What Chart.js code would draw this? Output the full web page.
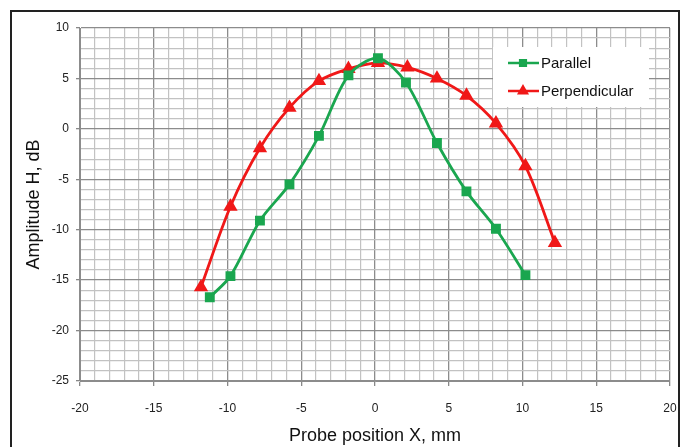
<!DOCTYPE html>
<html lang="en">
<head>
  <meta charset="UTF-8">
  <title>Amplitude vs probe position</title>
  <style>
    html, body { margin: 0; padding: 0; background: #fff; }
    #wrap { width: 683px; height: 447px; }
  </style>
</head>
<body>
  <div id="wrap"><canvas id="myChart" width="683" height="447"></canvas></div>
  <script src="https://cdn.jsdelivr.net/npm/chart.js"></script>
  <script>
    // values
    const parallelX = [-11.2, -9.8, -7.8, -5.8, -3.8, -1.8, 0.2, 2.1, 4.2, 6.2, 8.2, 10.2]
    const parallelY = [-16.7, -14.6, -9.1, -5.5, -0.7, 5.3, 7.0, 4.6, -1.4, -6.2, -9.9, -14.5]
    const perpX = [-11.8, -9.8, -7.8, -5.8, -3.8, -1.8, 0.2, 2.2, 4.2, 6.2, 8.2, 10.2, 12.2]
    const perpY = [-15.7, -7.7, -1.9, 2.1, 4.75, 5.95, 6.55, 6.1, 5.0, 3.3, 0.55, -3.7, -11.3]
    const seriesNames = ['Parallel', 'Perpendicular']
    const xRange = [-20, 20]
    const yRange = [-25, 10]
    const majorStep = 5

    const toPoints = (xs, ys) => xs.map((x, i) => ({ x: x, y: ys[i] }))
    const isMajor = ctx => ctx.tick && ctx.tick.value % majorStep === 0
    const gridColor = ctx => isMajor(ctx) ? '#8c8c8c' : '#c2c2c2'
    const gridWidth = ctx => isMajor(ctx) ? 1.3 : 1.2
    const tickColor = ctx => isMajor(ctx) ? '#888' : 'rgba(0,0,0,0)'
    const tickLabel = v => (v % majorStep === 0 ? v : '')

    // outer frame
    const frame = {
      id: 'frame',
      afterDraw(chart) {
        const c = chart.ctx
        c.save()
        c.strokeStyle = '#222'
        c.lineWidth = 2
        c.strokeRect(11, 11, 668, 460)
        c.restore()
      }
    }

    // legend box inside the plot
    const boxLegend = {
      id: 'boxLegend',
      afterDatasetsDraw(chart) {
        const c = chart.ctx
        c.save()
        c.fillStyle = '#fff'
        c.fillRect(493, 47, 156, 60)
        chart.data.datasets.forEach((ds, i) => {
          const y = 63 + i * 28
          c.strokeStyle = ds.borderColor
          c.lineWidth = 2.5
          c.beginPath()
          c.moveTo(508, y)
          c.lineTo(539, y)
          c.stroke()
          Chart.helpers.drawPoint(c, {
            pointStyle: ds.pointStyle, radius: ds.pointRadius - 1, borderWidth: 1
          }, 523, y)
          c.fillStyle = ds.backgroundColor
          c.strokeStyle = ds.borderColor
          c.fill()
          c.fillStyle = '#111'
          c.font = '15px "Liberation Sans", Arial, sans-serif'
          c.textBaseline = 'middle'
          c.fillText(ds.label, 541, y + 1)
        })
        c.restore()
      }
    }

    const ctx = document.getElementById('myChart')

    new Chart(ctx, {
      type: 'scatter',
      data: {
        datasets: [{
          label: seriesNames[0],
          data: toPoints(parallelX, parallelY),
          showLine: true,
          borderColor: '#1aa64f',
          backgroundColor: '#1aa64f',
          borderWidth: 2.8,
          pointStyle: 'rect',
          pointRadius: 5,
          tension: 0.3
        }, {
          label: seriesNames[1],
          data: toPoints(perpX, perpY),
          showLine: true,
          borderColor: '#f01818',
          backgroundColor: '#f01818',
          borderWidth: 2.8,
          pointStyle: 'triangle',
          pointRadius: 5.5,
          tension: 0.3
        }]
      },
      options: {
        responsive: false,
        animation: false,
        layout: { padding: { left: 0, right: 13, top: 28, bottom: 0 } },
        plugins: {
          legend: { display: false },
          tooltip: { enabled: false }
        },
        scales: {
          x: {
            type: 'linear',
            min: xRange[0],
            max: xRange[1],
            afterFit: s => { s.height = 66; s.paddingRight = 13; s.paddingLeft = 0 },
            ticks: {
              stepSize: 1,
              autoSkip: false,
              maxRotation: 0,
              padding: 15,
              color: '#222',
              font: { family: '"Liberation Sans", Arial, sans-serif', size: 12 },
              callback: tickLabel
            },
            grid: { color: gridColor, lineWidth: gridWidth, tickColor: tickColor, tickLength: 5 },
            border: { color: '#8c8c8c' },
            title: {
              display: true,
              text: 'Probe position X, mm',
              color: '#111',
              font: { family: '"Liberation Sans", Arial, sans-serif', size: 18 },
              padding: { top: 3, bottom: 0 }
            }
          },
          y: {
            type: 'linear',
            min: yRange[0],
            max: yRange[1],
            afterFit: s => { s.width = 80 },
            ticks: {
              stepSize: 1,
              autoSkip: false,
              padding: 7,
              color: '#222',
              font: { family: '"Liberation Sans", Arial, sans-serif', size: 12 },
              callback: tickLabel
            },
            grid: { color: gridColor, lineWidth: gridWidth, tickColor: tickColor, tickLength: 4 },
            border: { color: '#8c8c8c' },
            title: {
              display: true,
              text: 'Amplitude H, dB',
              color: '#111',
              font: { family: '"Liberation Sans", Arial, sans-serif', size: 18 },
              padding: { top: 23, bottom: 0 }
            }
          }
        }
      },
      plugins: [frame, boxLegend]
    })
  </script>
</body>
</html>
